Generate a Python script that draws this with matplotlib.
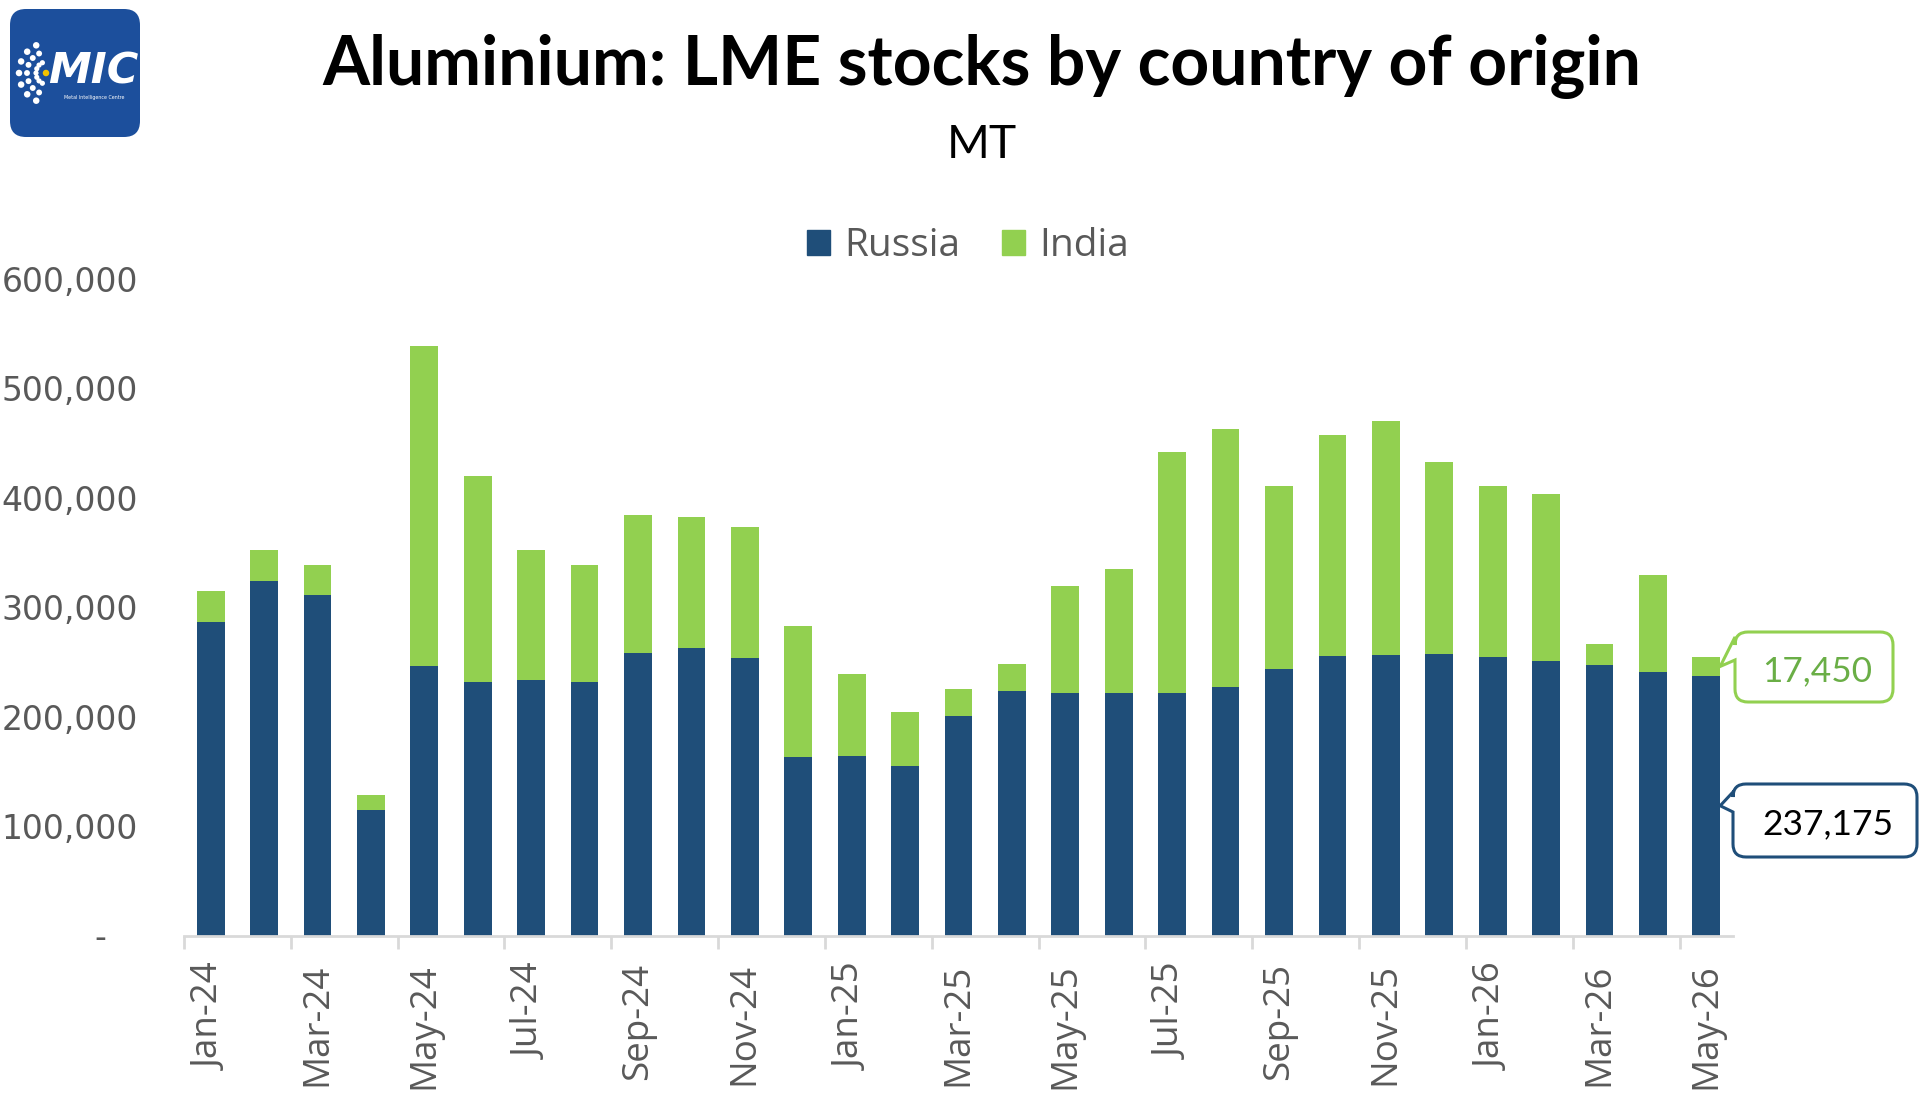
import matplotlib
matplotlib.use("Agg")
import matplotlib.pyplot as plt
from matplotlib.patches import FancyBboxPatch, PathPatch, Patch
from matplotlib.path import Path
import numpy as np

# ---------------- data ----------------
months = ["Jan-24", "Feb-24", "Mar-24", "Apr-24", "May-24", "Jun-24", "Jul-24", "Aug-24",
          "Sep-24", "Oct-24", "Nov-24", "Dec-24", "Jan-25", "Feb-25", "Mar-25", "Apr-25",
          "May-25", "Jun-25", "Jul-25", "Aug-25", "Sep-25", "Oct-25", "Nov-25", "Dec-25",
          "Jan-26", "Feb-26", "Mar-26", "Apr-26", "May-26"]
russia = [286600, 324000, 311200, 114700, 246300, 231700, 233500, 231700,
          258500, 262800, 253700, 163200, 164100, 155000, 200600, 223500,
          221700, 221700, 221700, 227200, 243600, 255500, 256400, 257300,
          254600, 251000, 247300, 240900, 237175]
india = [28300, 28400, 27500, 13300, 292500, 188300, 118900, 107000,
         125900, 119700, 119700, 119700, 74900, 49300, 24700, 24700,
         97800, 113300, 220200, 235800, 167300, 202000, 213900, 175500,
         156300, 152600, 19200, 88500, 17450]
series_names = ["Russia", "India"]
y_ticks = [0, 100000, 200000, 300000, 400000, 500000, 600000]
y_tick_labels = ["-", "100,000", "200,000", "300,000", "400,000", "500,000", "600,000"]
x_tick_labels = months[::2]

title = "Aluminium: LME stocks by country of origin"
subtitle = "MT"

# ---------------- style ----------------
C_RUS = "#1F4E79"
C_IND = "#92D050"
C_TXT = "#595959"
C_AX = "#D9D9D9"

W, H = 1920, 1110
fig = plt.figure(figsize=(W / 100, H / 100), dpi=100)
fig.patch.set_facecolor("white")


def fx(x):
    return x / W


def fy(y):
    return 1 - y / H


renderer = fig.canvas.get_renderer()


def fit_text(x, y, s, width_px, **kw):
    t = fig.text(fx(x), fy(y), s, fontsize=20, **kw)
    w = t.get_window_extent(renderer).width
    t.set_fontsize(20 * width_px / w)
    return t


# ---------------- main axes ----------------
ax_left, ax_right, ax_bottom, ax_top = 184, 1733, 935.5, 279
ax = fig.add_axes([fx(ax_left), fy(ax_bottom), (ax_right - ax_left) / W, (ax_bottom - ax_top) / H])

x = np.arange(len(months))
bw = 0.52
ax.bar(x, russia, bw, color=C_RUS, label=series_names[0], zorder=2)
ax.bar(x, india, bw, bottom=russia, color=C_IND, label=series_names[1], zorder=2)

ax.set_xlim(-0.5, len(months) - 0.5)
ax.set_ylim(0, 600000)

for s in ["top", "right", "left"]:
    ax.spines[s].set_visible(False)
ax.spines["bottom"].set_color(C_AX)
ax.spines["bottom"].set_linewidth(2)

ax.set_yticks(y_ticks)
ax.set_yticklabels([lab if lab != "-" else "-   " for lab in y_tick_labels],
                   fontsize=23.8, color=C_TXT, family="DejaVu Sans")
ax.tick_params(axis="y", length=0, pad=33)

ax.set_xticks(np.arange(-0.5, len(months) - 1, 2))
ax.set_xticklabels([])
ax.tick_params(axis="x", which="major", length=9.5, width=2, color=C_AX)
ax.set_xticks(x[::2], minor=True)
ax.set_xticklabels(x_tick_labels, minor=True, rotation=90, fontsize=26.5,
                   color=C_TXT, family="Open Sans")
ax.tick_params(axis="x", which="minor", length=0, pad=20)

leg = ax.legend(handles=[Patch(color=C_RUS), Patch(color=C_IND)], labels=series_names,
                loc="center", bbox_to_anchor=(fx(968), fy(246)), bbox_transform=fig.transFigure,
                ncol=2, frameon=False, handlelength=0.6, handleheight=0.6,
                handletextpad=0.37, columnspacing=1.05,
                prop={"family": "Open Sans", "size": 28})
for t in leg.get_texts():
    t.set_color(C_TXT)

# ---------------- titles ----------------
fit_text(981.5, 85, title, 1319, ha="center", va="baseline", family="Lato", weight="bold", color="black")
fit_text(982, 158, subtitle, 70, ha="center", va="baseline", family="Lato", color="black")


# ---------------- callouts ----------------
def callout(box, wedge, tip_data, text, edge, tcolor, text_w):
    x0, y0, x1, y1 = box
    r = 13
    wa, wb = wedge
    tip = ax.transData.transform(tip_data)
    tx, ty = tip[0], H - tip[1]
    pts = [(x0 + r, y0), (x1 - r, y0), (x1, y0), (x1, y0 + r), (x1, y1 - r), (x1, y1),
           (x1 - r, y1), (x0 + r, y1), (x0, y1), (x0, y1 - r), (x0, wb), (tx, ty), (x0, wa),
           (x0, y0 + r), (x0, y0), (x0 + r, y0), (x0 + r, y0)]
    codes = [Path.MOVETO, Path.LINETO, Path.CURVE3, Path.CURVE3, Path.LINETO, Path.CURVE3,
             Path.CURVE3, Path.LINETO, Path.CURVE3, Path.CURVE3, Path.LINETO, Path.LINETO,
             Path.LINETO, Path.LINETO, Path.CURVE3, Path.CURVE3, Path.CLOSEPOLY]
    verts = [(fx(px), fy(py)) for px, py in pts]
    fig.add_artist(PathPatch(Path(verts, codes), facecolor="white", edgecolor=edge,
                             linewidth=2.2, transform=fig.transFigure, zorder=5))
    t = fit_text((x0 + x1) / 2 + 3, (y0 + y1) / 2 + 4, text, text_w, ha="center", va="center",
                 family="Lato", color=tcolor)
    t.set_zorder(6)


last = len(months) - 1
callout((1735, 632, 1893, 702), (637, 660), (last + bw / 2, russia[-1] + india[-1] / 2),
        f"{india[-1]:,}", C_IND, "#6AAE46", 110)
callout((1733, 784, 1917, 857), (792, 812), (last + bw / 2, russia[-1] / 2),
        f"{russia[-1]:,}", C_RUS, "black", 131)

# ---------------- logo ----------------
lax = fig.add_axes([fx(10), fy(137), 130 / W, 128 / H])
lax.set_xlim(0, 130)
lax.set_ylim(128, 0)
lax.axis("off")
lax.add_patch(FancyBboxPatch((0, 0), 130, 128, boxstyle="round,pad=0,rounding_size=16",
                             facecolor="#1C4F9C", edgecolor="none"))
ang = np.linspace(-1.2, 1.2, 7)
for rr, sz in [(10, 14), (19, 18), (27, 22)]:
    lax.scatter(36 - rr * np.cos(ang), 64 + rr * np.sin(ang) * 1.1, s=sz, color="white",
                edgecolors="none")
lax.scatter([36], [64], s=22, color="#F2C200", edgecolors="none")
lax.text(83, 62, "MIC", color="white", fontsize=31, fontweight="bold", style="italic",
         ha="center", va="center", family="DejaVu Sans")
lax.text(84, 88, "Metal Intelligence Centre", color="white", fontsize=3.4, ha="center",
         va="center")

fig.savefig("out.png", dpi=100, facecolor="white")
